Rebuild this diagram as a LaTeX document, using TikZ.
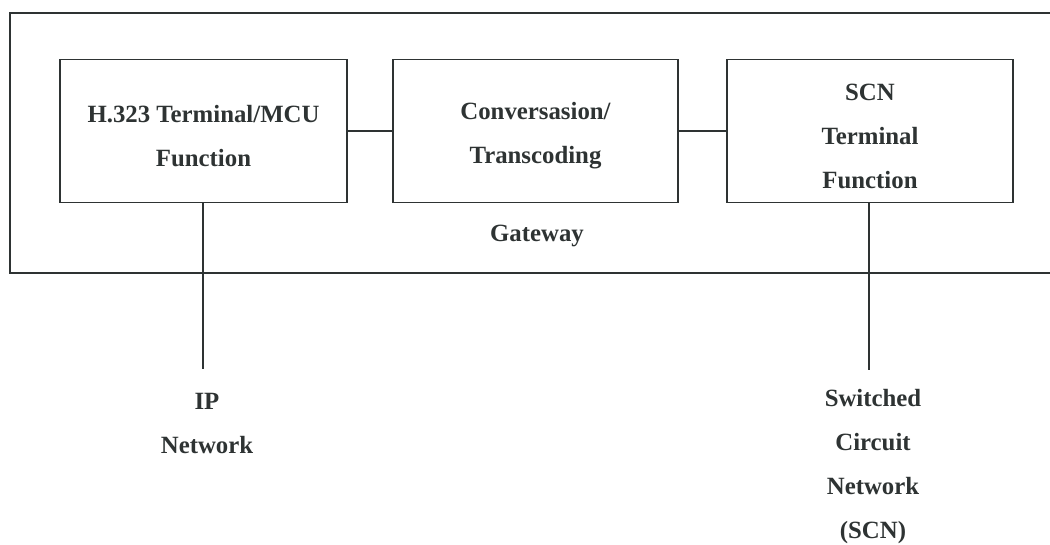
\documentclass[tikz,border=0pt]{standalone}
\usepackage{fontspec}
\setmainfont{Liberation Serif}
\definecolor{ink}{HTML}{2E3333}
\begin{document}
\begin{tikzpicture}[x=1pt,y=-1pt,
  line/.style={draw=ink,line width=1.8pt},
  txt/.style={align=center,text=ink,inner sep=0pt,
    font=\fontsize{24.8}{44}\selectfont\bfseries},
  func/.style={line,rectangle,minimum width=287pt,minimum height=143pt,inner sep=0pt},
  inside/.style={label={[txt,yshift=-5pt]center:#1}}]
\useasboundingbox (0,0) rectangle (1050,544);
\fill[white] (0,0) rectangle (1050,544);

% gateway enclosure, open towards the right edge
\draw[line] (1052,13) -- (10,13) -- (10,273) -- (1052,273);

% functional blocks inside the gateway
\node[func,inside={H.323 Terminal/MCU\\Function}] (h323) at (203.5,131) {};
\node[func,minimum width=285pt,inside={Conversasion/\\Transcoding}] (conv) at (535.5,131) {};
\node[func,minimum width=286pt,inside={SCN\\Terminal\\Function}] (scn) at (870,131) {};
\node[txt] (gw) at (537,236) {Gateway};

% attached networks
\coordinate (ipend) at (203,369);
\coordinate (scnend) at (869,370);
\node[txt,anchor=north] (ipnet) at (207,393) {IP\\Network};
\node[txt,anchor=north] (scnnet) at (873,389) {Switched\\Circuit\\Network\\(SCN)};

% connections
\draw[line] (h323.east) -- (conv.west);
\draw[line] (conv.east) -- (scn.west);
\draw[line] (h323.south -| ipend) -- (ipend);
\draw[line] (scn.south -| scnend) -- (scnend);
\end{tikzpicture}
\end{document}
